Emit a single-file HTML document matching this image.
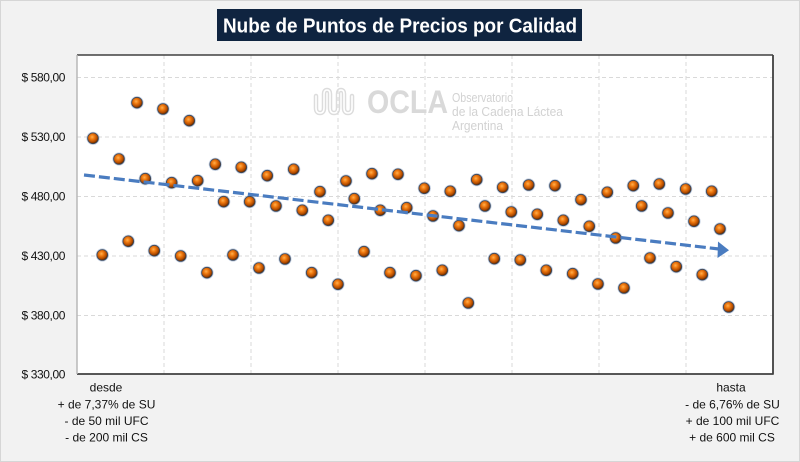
<!DOCTYPE html>
<html>
<head>
<meta charset="utf-8">
<style>
  html,body{margin:0;padding:0;background:#f2f2f2;}
  svg{display:block;}
  text{font-family:"Liberation Sans",Arial,sans-serif;}
</style>
</head>
<body>
<svg width="800" height="462" viewBox="0 0 800 462" xmlns="http://www.w3.org/2000/svg">
  <defs>
    <radialGradient id="ball" cx="0.42" cy="0.38" r="0.62">
      <stop offset="0" stop-color="#ffb050"/>
      <stop offset="0.35" stop-color="#f07a10"/>
      <stop offset="0.75" stop-color="#b04a00"/>
      <stop offset="1" stop-color="#4a2200"/>
    </radialGradient>
    <g id="m">
      <circle r="6.6" fill="#8ea6c8" opacity="0.5"/>
      <circle r="5.4" fill="url(#ball)" stroke="#3c4a60" stroke-width="0.8"/>
    </g>
  </defs>

  <rect x="0.5" y="0.5" width="799" height="461" fill="#f2f2f2" stroke="#d6d6d6" stroke-width="1"/>

  <rect x="217" y="9" width="365" height="32" fill="#0f2440"/>
  <text x="400" y="32.5" text-anchor="middle" fill="#ffffff" font-weight="bold" font-size="20" textLength="354" lengthAdjust="spacingAndGlyphs">Nube de Puntos de Precios por Calidad</text>

  <rect x="77" y="55" width="696" height="319" fill="#ffffff"/>

  <g>
    <path d="M316 96 v12 q0 5 4 5 q4 0 4 -5 v-14 q0 -4 3 -4 q3 0 3 4 v14 q0 5 4 5 q4 0 4 -5 v-14 q0 -4 3 -4 q3 0 3 4 v14 q0 5 4 5 q4 0 4 -5 v-12" fill="none" stroke="#dcdcdc" stroke-width="4.5" stroke-linecap="round"/>
    <path d="M316 96 v12 q0 5 4 5 q4 0 4 -5 v-14 q0 -4 3 -4 q3 0 3 4 v14 q0 5 4 5 q4 0 4 -5 v-14 q0 -4 3 -4 q3 0 3 4 v14 q0 5 4 5 q4 0 4 -5 v-12" fill="none" stroke="#ffffff" stroke-width="1.6" stroke-linecap="round"/>
    <text x="367" y="113" fill="#d9d9d9" font-weight="bold" font-size="32" textLength="81" lengthAdjust="spacingAndGlyphs">OCLA</text>
    <text x="452" y="102" fill="#d2d2d2" font-size="12.5" textLength="61" lengthAdjust="spacingAndGlyphs">Observatorio</text>
    <text x="452" y="116" fill="#d2d2d2" font-size="12.5" textLength="111" lengthAdjust="spacingAndGlyphs">de la Cadena Láctea</text>
    <text x="452" y="130" fill="#d2d2d2" font-size="12.5" textLength="51" lengthAdjust="spacingAndGlyphs">Argentina</text>
  </g>

  <g stroke="#d9d9d9" stroke-width="1" stroke-dasharray="4 3" fill="none">
    <line x1="77" y1="77.5" x2="773" y2="77.5"/>
    <line x1="77" y1="137" x2="773" y2="137"/>
    <line x1="77" y1="196.5" x2="773" y2="196.5"/>
    <line x1="77" y1="256" x2="773" y2="256"/>
    <line x1="77" y1="315.5" x2="773" y2="315.5"/>
    <line x1="164" y1="55" x2="164" y2="374"/>
    <line x1="251" y1="55" x2="251" y2="374"/>
    <line x1="338" y1="55" x2="338" y2="374"/>
    <line x1="425" y1="55" x2="425" y2="374"/>
    <line x1="512" y1="55" x2="512" y2="374"/>
    <line x1="599" y1="55" x2="599" y2="374"/>
    <line x1="686" y1="55" x2="686" y2="374"/>
  </g>

  <line x1="77" y1="55" x2="773" y2="55" stroke="#404040" stroke-width="1.5"/>
  <line x1="773" y1="55" x2="773" y2="374.5" stroke="#404040" stroke-width="1.8"/>
  <line x1="77" y1="374" x2="773.5" y2="374" stroke="#404040" stroke-width="1.8"/>
  <line x1="77" y1="55" x2="77" y2="374" stroke="#b8b8b8" stroke-width="1.5"/>

  <g>
    <use href="#m" x="93" y="138.3"/>
    <use href="#m" x="137" y="102.7"/>
    <use href="#m" x="163" y="109"/>
    <use href="#m" x="189.3" y="120.7"/>
    <use href="#m" x="119" y="159"/>
    <use href="#m" x="215.3" y="164.3"/>
    <use href="#m" x="241.3" y="167.3"/>
    <use href="#m" x="267.3" y="175.7"/>
    <use href="#m" x="293.7" y="169.3"/>
    <use href="#m" x="145.3" y="178.7"/>
    <use href="#m" x="171.7" y="182.7"/>
    <use href="#m" x="197.7" y="180.7"/>
    <use href="#m" x="223.7" y="201.7"/>
    <use href="#m" x="249.7" y="201.7"/>
    <use href="#m" x="276" y="206"/>
    <use href="#m" x="302.3" y="210.3"/>
    <use href="#m" x="102.3" y="255"/>
    <use href="#m" x="128.3" y="241.3"/>
    <use href="#m" x="154.3" y="250.7"/>
    <use href="#m" x="180.7" y="256"/>
    <use href="#m" x="207" y="272.7"/>
    <use href="#m" x="233" y="255"/>
    <use href="#m" x="259" y="268"/>
    <use href="#m" x="285" y="259"/>
    <use href="#m" x="311.7" y="272.7"/>
    <use href="#m" x="320" y="191.7"/>
    <use href="#m" x="346" y="181"/>
    <use href="#m" x="372" y="173.7"/>
    <use href="#m" x="398" y="174.3"/>
    <use href="#m" x="424.3" y="188.3"/>
    <use href="#m" x="450.3" y="191.3"/>
    <use href="#m" x="476.7" y="179.7"/>
    <use href="#m" x="502.7" y="187.3"/>
    <use href="#m" x="528.7" y="185"/>
    <use href="#m" x="328.3" y="220.3"/>
    <use href="#m" x="354.3" y="198.7"/>
    <use href="#m" x="380.3" y="210.3"/>
    <use href="#m" x="406.7" y="207.7"/>
    <use href="#m" x="433" y="216"/>
    <use href="#m" x="459" y="225.7"/>
    <use href="#m" x="485" y="206"/>
    <use href="#m" x="511.3" y="212"/>
    <use href="#m" x="537.3" y="214.3"/>
    <use href="#m" x="338" y="284.3"/>
    <use href="#m" x="364" y="251.7"/>
    <use href="#m" x="390" y="272.7"/>
    <use href="#m" x="416" y="275.7"/>
    <use href="#m" x="442.3" y="270.3"/>
    <use href="#m" x="468.3" y="303"/>
    <use href="#m" x="494.3" y="258.7"/>
    <use href="#m" x="520.3" y="260"/>
    <use href="#m" x="546.3" y="270.3"/>
    <use href="#m" x="555" y="185.7"/>
    <use href="#m" x="581" y="199.7"/>
    <use href="#m" x="607.3" y="192.3"/>
    <use href="#m" x="633.3" y="185.7"/>
    <use href="#m" x="659.3" y="184"/>
    <use href="#m" x="685.7" y="189"/>
    <use href="#m" x="711.7" y="191.3"/>
    <use href="#m" x="563.3" y="220.3"/>
    <use href="#m" x="589.3" y="226.3"/>
    <use href="#m" x="615.7" y="238"/>
    <use href="#m" x="641.7" y="206"/>
    <use href="#m" x="668" y="213"/>
    <use href="#m" x="694" y="221.3"/>
    <use href="#m" x="720" y="229"/>
    <use href="#m" x="572.7" y="273.7"/>
    <use href="#m" x="598" y="284"/>
    <use href="#m" x="624" y="288"/>
    <use href="#m" x="650" y="258"/>
    <use href="#m" x="676.3" y="266.7"/>
    <use href="#m" x="702.3" y="274.7"/>
    <use href="#m" x="728.7" y="307"/>
  </g>

  <line x1="84" y1="175" x2="719" y2="249" stroke="#4a7cc0" stroke-width="3.2" stroke-dasharray="11 4"/>
  <polygon points="718,241.5 729,250.3 717.5,258" fill="#4a7cc0"/>

  <g font-size="12" fill="#111" text-anchor="end" letter-spacing="-0.4">
    <text x="65" y="81.5">$ 580,00</text>
    <text x="65" y="141">$ 530,00</text>
    <text x="65" y="200.5">$ 480,00</text>
    <text x="65" y="260">$ 430,00</text>
    <text x="65" y="319.5">$ 380,00</text>
    <text x="65" y="378.5">$ 330,00</text>
  </g>

  <g font-size="12" fill="#111" text-anchor="middle">
    <text x="106" y="391.5">desde</text>
    <text x="106.5" y="408.5">+ de 7,37% de SU</text>
    <text x="106.5" y="425">- de 50 mil UFC</text>
    <text x="106.5" y="441.5">- de 200 mil CS</text>
    <text x="731" y="391.5">hasta</text>
    <text x="732.5" y="408.5">- de 6,76% de SU</text>
    <text x="732.5" y="425">+ de 100 mil UFC</text>
    <text x="732" y="441.5">+ de 600 mil CS</text>
  </g>
</svg>
</body>
</html>
